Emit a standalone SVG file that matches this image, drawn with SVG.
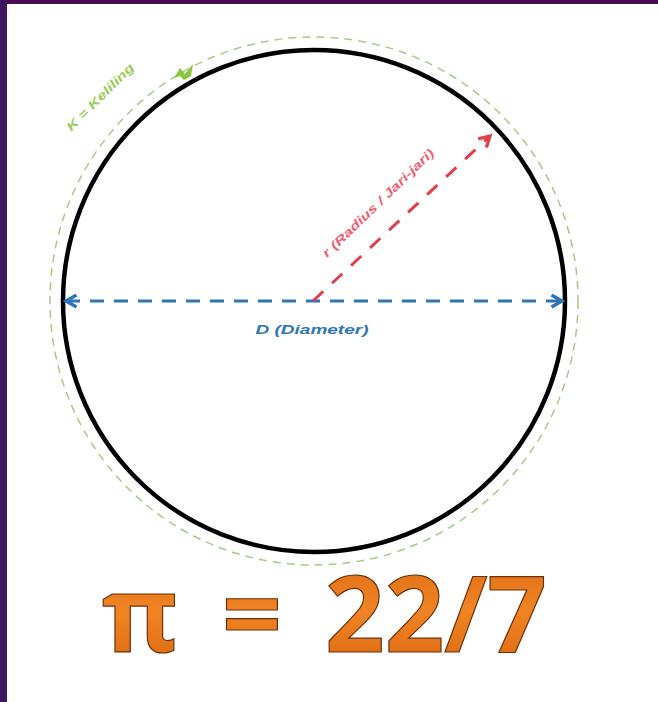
<svg xmlns="http://www.w3.org/2000/svg" width="658" height="702" viewBox="0 0 658 702">
<defs>
<style>
.lbl{font-family:"Liberation Sans",Arial,sans-serif;font-style:italic;font-weight:bold;font-size:12px}
.f{font-family:'Open Sans','Liberation Sans',Arial,sans-serif;font-weight:bold;font-size:106px;fill:url(#og);stroke:#6B3008;stroke-width:1.2}
</style>
<marker id="ab" viewBox="0 0 10 10" refX="8" refY="5" markerWidth="5" markerHeight="5" orient="auto-start-reverse" markerUnits="strokeWidth">
<path d="M1,1 L8,5 L1,9" fill="none" stroke="#2E75B6" stroke-width="2.2"/>
</marker>
<marker id="ar" viewBox="0 0 10 10" refX="8" refY="5" markerWidth="5" markerHeight="5" orient="auto" markerUnits="strokeWidth">
<path d="M1,1 L8,5 L1,9" fill="none" stroke="#E0404A" stroke-width="2.2"/>
</marker>
<linearGradient id="og" x1="0" y1="0" x2="0" y2="1">
<stop offset="0" stop-color="#D9650F"/>
<stop offset="0.5" stop-color="#F08424"/>
<stop offset="1" stop-color="#D8620C"/>
</linearGradient>
</defs>
<rect width="658" height="702" fill="#ffffff"/>
<rect x="0" y="0" width="658" height="4" fill="#4A0D50"/>
<rect x="0" y="0" width="7" height="702" fill="#3E1660"/>
<g id="circumference">
<circle cx="314" cy="301" r="264" fill="none" stroke="#A9C98A" stroke-width="1.5" stroke-dasharray="8 6"/>
<path d="M174,78 L180,68 L185,74 L193,64 L191,76 L184,80 L180,76 Z" fill="#8CC63F"/>
<text class="lbl" x="0" y="0" fill="#9BCB5A" transform="translate(103,100) rotate(-45)" text-anchor="middle" textLength="90" lengthAdjust="spacingAndGlyphs">K = Keliling</text>
</g>
<g id="circle">
<circle cx="314" cy="301" r="251" fill="none" stroke="#000000" stroke-width="4.5"/>
</g>
<g id="connectors">
<line x1="66" y1="301" x2="562" y2="301" stroke="#2E75B6" stroke-width="3" stroke-dasharray="14 10" marker-start="url(#ab)" marker-end="url(#ab)"/>
<line x1="313" y1="301" x2="490" y2="136" stroke="#E0404A" stroke-width="3" stroke-dasharray="14 12" marker-end="url(#ar)"/>
</g>
<g id="radius-label">
<text class="lbl" x="0" y="0" fill="#F06070" transform="translate(381,206) rotate(-44)" text-anchor="middle" textLength="150" lengthAdjust="spacingAndGlyphs">r (Radius / Jari-jari)</text>
</g>
<g id="diameter-label">
<text class="lbl" x="312" y="334" fill="#2E75B6" text-anchor="middle" textLength="113" lengthAdjust="spacingAndGlyphs">D (Diameter)</text>
</g>
<g id="formula">
<text class="f" x="102" y="652" textLength="76" lengthAdjust="spacingAndGlyphs">π</text>
<text class="f" x="222" y="652" textLength="60" lengthAdjust="spacingAndGlyphs">=</text>
<text class="f" x="325" y="652" textLength="222" lengthAdjust="spacingAndGlyphs">22/7</text>
</g>
</svg>
